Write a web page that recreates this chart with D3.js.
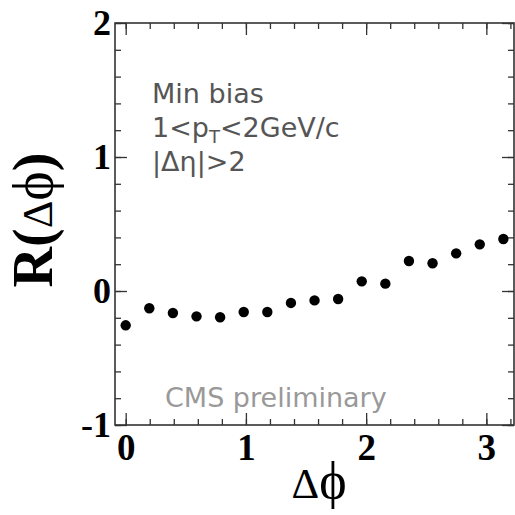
<!DOCTYPE html>
<html>
<head>
<meta charset="utf-8">
<script src="https://cdn.jsdelivr.net/npm/d3@7"></script>
<style>
  html, body { margin: 0; padding: 0; background: #fff; }
  svg { display: block; }
  .tick text { font-family: "Liberation Serif", "Times New Roman", serif; font-weight: bold; fill: #000; }
</style>
</head>
<body>
<svg id="chart" width="515" height="515"></svg>
<script>
// Azimuthal correlation R(Δφ) for min-bias events, 1<pT<2 GeV/c, |Δη|>2
const deltaPhiBins = [0, 1, 2, 3, 4, 5, 6, 7, 8, 9, 10, 11, 12, 13, 14, 15, 16].map(i => i * Math.PI / 16);
const rValues = [-0.256, -0.129, -0.164, -0.189, -0.196, -0.157, -0.157, -0.089, -0.070, -0.060,
                 0.072, 0.055, 0.224, 0.207, 0.281, 0.348, 0.388];
const xMajorTicks = [0, 1, 2, 3];
const yMajorTicks = [-1, 0, 1, 2];
const xMinorTicks = d3.range(0, 3.21, 0.2);
const yMinorTicks = d3.range(-1, 2.01, 0.2);
const infoLines = ["Min bias", "1<p_T<2GeV/c", "|Δη|>2"];

const svg = d3.select("#chart");
const plotL = 115, plotR = 514, plotT = 23, plotB = 425;

const x = d3.scaleLinear().domain([-0.089, 3.23]).range([plotL, plotR]);
const y = d3.scaleLinear().domain([-1, 2]).range([plotB, plotT]);

const frameColor = "#333";

// minor ticks on all four sides, pointing inward
function minorAxis(axisFn, scale, values, tx, ty) {
  const g = svg.append("g").attr("transform", `translate(${tx},${ty})`)
    .call(axisFn(scale).tickValues(values).tickSize(-6).tickFormat(""));
  g.select(".domain").remove();
  g.selectAll(".tick line").attr("stroke", frameColor).attr("stroke-width", 1.3);
  return g;
}
minorAxis(d3.axisBottom, x, xMinorTicks, 0, plotB);
minorAxis(d3.axisTop, x, xMinorTicks, 0, plotT);
minorAxis(d3.axisLeft, y, yMinorTicks, plotL, 0);
minorAxis(d3.axisRight, y, yMinorTicks, plotR, 0);

// major ticks
function majorAxis(axisFn, scale, values, tx, ty, labels, size, pad) {
  const a = axisFn(scale).tickValues(values).tickSize(-12).tickPadding(pad);
  if (!labels) a.tickFormat("");
  else a.tickFormat(d3.format("d"));
  const g = svg.append("g").attr("transform", `translate(${tx},${ty})`).call(a);
  g.select(".domain").remove();
  g.selectAll(".tick line").attr("stroke", frameColor).attr("stroke-width", 1.3);
  g.selectAll(".tick text").style("font-size", size + "px");
  return g;
}
majorAxis(d3.axisBottom, x, xMajorTicks, 0, plotB, true, 37, 9);
majorAxis(d3.axisTop, x, xMajorTicks, 0, plotT, false, 0, 0);
const gy = majorAxis(d3.axisLeft, y, yMajorTicks, plotL, 0, true, 36, 4);
majorAxis(d3.axisRight, y, yMajorTicks, plotR, 0, false, 0, 0);
gy.selectAll(".tick text").text(d => d < 0 ? "-" + Math.abs(d) : d);

// frame
svg.append("rect")
  .attr("x", plotL).attr("y", plotT)
  .attr("width", plotR - plotL).attr("height", plotB - plotT)
  .attr("fill", "none").attr("stroke", frameColor).attr("stroke-width", 1.6);

// data points
svg.append("g").selectAll("circle")
  .data(deltaPhiBins.map((d, i) => [d, rValues[i]]))
  .join("circle")
  .attr("cx", d => x(d[0]))
  .attr("cy", d => y(d[1]))
  .attr("r", 5.2)
  .attr("fill", "#000");

// axis titles
const serif = '"Liberation Serif", "DejaVu Serif", serif';
const xt = svg.append("text")
  .attr("x", 319).attr("y", 498)
  .attr("text-anchor", "middle")
  .style("font-family", serif);
xt.append("tspan").style("font-size", "43px").text("Δ");
xt.append("tspan").style("font-size", "52px").text("ϕ");

const yt = svg.append("text")
  .attr("transform", "translate(52,220) rotate(-90)")
  .attr("text-anchor", "middle")
  .style("font-family", serif).style("font-size", "56px");
yt.append("tspan").style("font-weight", "bold").text("R(");
yt.append("tspan").style("font-size", "43px").text("Δ");
yt.append("tspan").text("ϕ");
yt.append("tspan").style("font-weight", "bold").text(")");

// info text block
const sans = '"DejaVu Sans", Verdana, sans-serif';
infoLines.forEach((line, i) => {
  const t = svg.append("text")
    .attr("x", 152).attr("y", 103 + i * 34)
    .style("font-family", sans).style("font-size", "27px").attr("fill", "#555");
  const parts = line.split("_");
  if (parts.length === 1) {
    t.text(line);
  } else {
    t.append("tspan").text(parts[0]);
    t.append("tspan").attr("dy", 6).style("font-size", "18px").text(parts[1].charAt(0));
    t.append("tspan").attr("dy", -6).text(parts[1].slice(1));
  }
});

svg.append("text")
  .attr("x", 165).attr("y", 407)
  .style("font-family", sans).style("font-size", "27px").attr("fill", "#999")
  .text("CMS preliminary");
</script>
</body>
</html>
